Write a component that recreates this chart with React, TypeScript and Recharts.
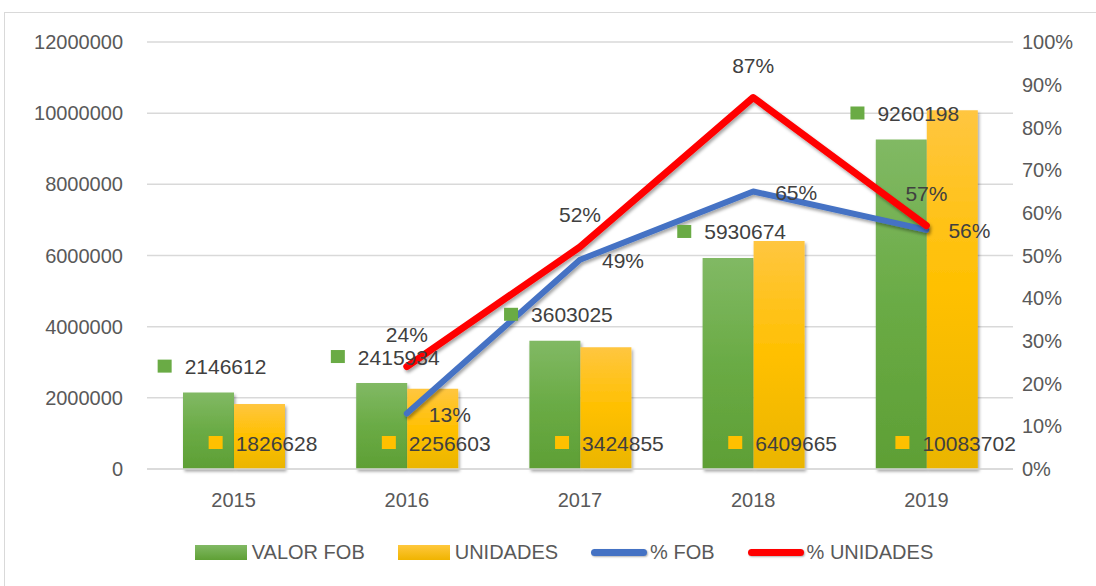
import React from 'react'
import {
  ComposedChart,
  Bar,
  Line,
  XAxis,
  YAxis,
  CartesianGrid,
  Legend,
  LabelList,
} from 'recharts'

const years = ['2015', '2016', '2017', '2018', '2019']
const valorFob = [2146612, 2415934, 3603025, 5930674, 9260198]
const unidades = [1826628, 2256603, 3424855, 6409665, 10083702]
const pctFob = [null, 0.13, 0.49, 0.65, 0.56]
const pctUnidades = [null, 0.24, 0.52, 0.87, 0.57]
const leftTicks = [0, 2000000, 4000000, 6000000, 8000000, 10000000, 12000000]
const rightTicks = [0, 0.1, 0.2, 0.3, 0.4, 0.5, 0.6, 0.7, 0.8, 0.9, 1]

const data = years.map((year, i) => ({
  year,
  fob: valorFob[i],
  unidades: unidades[i],
  pctFob: pctFob[i],
  pctUnidades: pctUnidades[i],
}))

const FONT = '"Liberation Sans", Arial, sans-serif'
const LABEL = '#404040'
const AXIS = '#595959'
const GRID = '#d9d9d9'

// square marker + value, centred over the bar
const barLabel = (fill: string, atBase: boolean) => (props: any) => {
  const { x, y, width, height, value } = props
  if (value == null) return null
  const text = String(value)
  const textW = text.length * 12.1
  const groupW = 14 + 13 + textW
  const left = Number(x) + Number(width) / 2 + 5 - groupW / 2
  const cy = atBase ? Number(y) + Number(height) - 26 : Number(y) - 26
  return (
    <g>
      <rect x={left} y={cy - 7} width={14} height={13} fill={fill} />
      <text
        x={left + 27}
        y={cy}
        fill={LABEL}
        fontSize={21}
        fontFamily={FONT}
        textAnchor="start"
        dominantBaseline="central"
      >
        {text}
      </text>
    </g>
  )
}

const pctLabel = (where: 'right' | 'top') => (props: any) => {
  const { x, y, value } = props
  if (value == null) return null
  const t = `${Math.round(Number(value) * 100)}%`
  return where === 'right' ? (
    <text x={Number(x) + 22} y={Number(y) + 1} fill={LABEL} fontSize={21} fontFamily={FONT}
      textAnchor="start" dominantBaseline="central">{t}</text>
  ) : (
    <text x={Number(x)} y={Number(y) - 32} fill={LABEL} fontSize={21} fontFamily={FONT}
      textAnchor="middle" dominantBaseline="central">{t}</text>
  )
}

const legendItems = [
  { label: 'VALOR FOB', kind: 'bar', color: '#6aab45' },
  { label: 'UNIDADES', kind: 'bar', color: '#ffc000' },
  { label: '% FOB', kind: 'line', color: '#4472c4' },
  { label: '% UNIDADES', kind: 'line', color: '#ff0000' },
]

function ChartLegend() {
  return (
    <div style={{ display: 'flex', justifyContent: 'center', alignItems: 'center', fontFamily: FONT, fontSize: 20, color: AXIS, paddingLeft: 32 }}>
      {legendItems.map((it, i) => (
        <div key={it.label} style={{ display: 'flex', alignItems: 'center', marginLeft: i === 0 ? 0 : 33 }}>
          {it.kind === 'bar' ? (
            <div
              style={{
                width: 52,
                height: 15,
                background:
                  i === 0
                    ? 'linear-gradient(#81b964, #5fa035)'
                    : 'linear-gradient(#ffc83d, #f0b400)',
                marginRight: 5,
              }}
            />
          ) : (
            <div style={{ width: 56, height: 7, borderRadius: 4, background: it.color, marginRight: 3, boxShadow: '1px 1px 2px rgba(0,0,0,0.3)' }} />
          )}
          <span>{it.label}</span>
        </div>
      ))}
    </div>
  )
}

export default function App() {
  return (
    <div style={{ position: 'absolute', left: 0, top: 0, width: 1096, height: 586, overflow: 'hidden', background: '#fff' }}>
      <div style={{ position: 'absolute', left: 4, top: 12, width: 1200, height: 800, borderTop: `1px solid ${GRID}`, borderLeft: `1px solid ${GRID}` }} />
      <div style={{ position: 'absolute', left: 0, top: 0 }}>
        <ComposedChart
          width={1096}
          height={586}
          data={data}
          margin={{ top: 42, right: 0, left: 0, bottom: 57 }}
          barGap={0}
          barSize={51}
        >
          <defs>
            <linearGradient id="greenGrad" x1="0" y1="0" x2="0" y2="1">
              <stop offset="0%" stopColor="#81b964" />
              <stop offset="50%" stopColor="#6aab45" />
              <stop offset="100%" stopColor="#5e9f35" />
            </linearGradient>
            <linearGradient id="yellowGrad" x1="0" y1="0" x2="0" y2="1">
              <stop offset="0%" stopColor="#ffc640" />
              <stop offset="50%" stopColor="#ffc000" />
              <stop offset="100%" stopColor="#eab500" />
            </linearGradient>
            <filter id="shadow" x="-10%" y="-10%" width="120%" height="130%">
              <feDropShadow dx="1.5" dy="2.5" stdDeviation="1.5" floodColor="#000" floodOpacity="0.35" />
            </filter>
          </defs>
          <CartesianGrid horizontal vertical={false} stroke={GRID} strokeWidth={1.5} yAxisId="left" />
          <XAxis
            dataKey="year"
            height={30}
            tick={{ fontSize: 20, fill: AXIS, fontFamily: FONT }}
            axisLine={{ stroke: GRID, strokeWidth: 1.5 }}
            tickLine={false}
            tickSize={0}
            tickMargin={24}
          />
          <YAxis
            yAxisId="left"
            width={147}
            domain={[0, 12000000]}
            ticks={leftTicks}
            tick={{ fontSize: 20, fill: AXIS, fontFamily: FONT }}
            axisLine={false}
            tickLine={false}
            tickSize={0}
            tickMargin={24}
          />
          <YAxis
            yAxisId="pct"
            orientation="right"
            width={83}
            domain={[0, 1]}
            ticks={rightTicks}
            tickFormatter={(v) => `${Math.round(v * 100)}%`}
            tick={{ fontSize: 20, fill: AXIS, fontFamily: FONT, textAnchor: 'start' }}
            axisLine={false}
            tickLine={false}
            tickSize={0}
            tickMargin={9}
          />
          <Bar yAxisId="left" dataKey="fob" name="VALOR FOB" fill="url(#greenGrad)" isAnimationActive={false} filter="url(#shadow)">
            <LabelList dataKey="fob" content={barLabel('#6aab45', false)} />
          </Bar>
          <Bar yAxisId="left" dataKey="unidades" name="UNIDADES" fill="url(#yellowGrad)" isAnimationActive={false} filter="url(#shadow)">
            <LabelList dataKey="unidades" content={barLabel('#ffc000', true)} />
          </Bar>
          <Line
            yAxisId="pct"
            dataKey="pctFob"
            name="% FOB"
            stroke="#4472c4"
            strokeWidth={6}
            strokeLinecap="round"
            strokeLinejoin="round"
            dot={false}
            activeDot={false}
            isAnimationActive={false}
            filter="url(#shadow)"
          >
            <LabelList dataKey="pctFob" content={pctLabel('right')} />
          </Line>
          <Line
            yAxisId="pct"
            dataKey="pctUnidades"
            name="% UNIDADES"
            stroke="#ff0000"
            strokeWidth={7}
            strokeLinecap="round"
            strokeLinejoin="round"
            dot={false}
            activeDot={false}
            isAnimationActive={false}
            filter="url(#shadow)"
          >
            <LabelList dataKey="pctUnidades" content={pctLabel('top')} />
          </Line>
          <Legend
            verticalAlign="bottom"
            height={30}
            content={() => <ChartLegend />}
            wrapperStyle={{ top: 541, bottom: 'auto', left: 0, width: 1096 }}
          />
        </ComposedChart>
      </div>
    </div>
  )
}
